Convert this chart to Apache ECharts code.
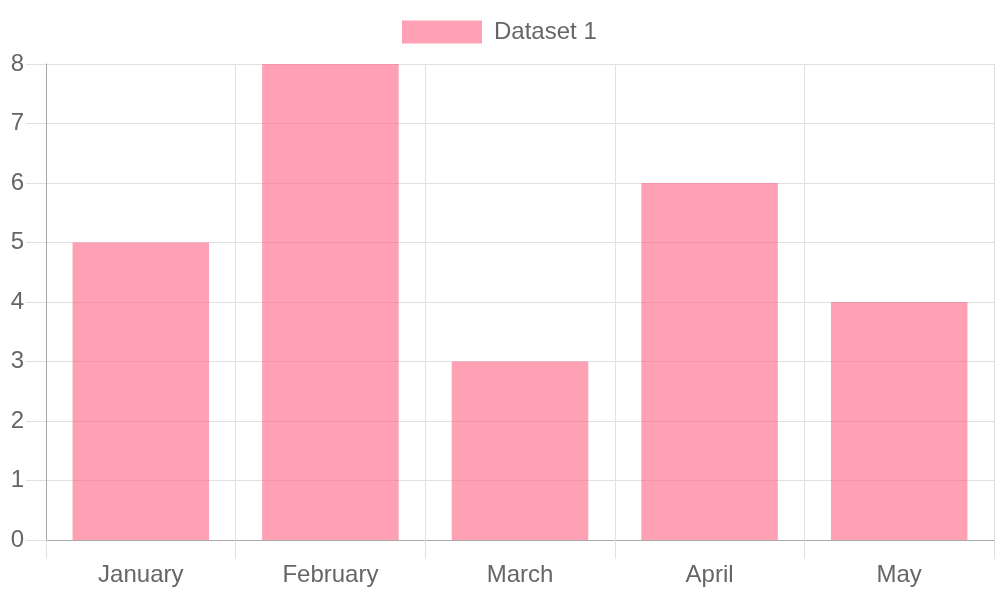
<!DOCTYPE html>
<html>
<head>
<meta charset="utf-8">
<script src="https://cdn.jsdelivr.net/npm/echarts@6/dist/echarts.min.js"></script>
<style>
  html, body { margin: 0; padding: 0; background: #fff; }
  #chart { width: 1000px; height: 600px; }
</style>
</head>
<body>
<div id="chart"></div>
<script>
var months = ["January", "February", "March", "April", "May"];
var dataset1 = [5, 8, 3, 6, 4];
var yTicks = { min: 0, max: 8, step: 1 };

var myChart = echarts.init(document.getElementById("chart"));

var option = {
  backgroundColor: "#fff",
  textStyle: { fontFamily: "Liberation Sans, Arial, sans-serif" },
  legend: {
    top: 20,
    left: 402,
    padding: 0,
    icon: "rect",
    itemWidth: 80,
    itemHeight: 23,
    textStyle: { color: "#666", fontSize: 24, padding: [0, 0, 0, 7] },
    data: ["Dataset 1"],
  },
  grid: {
    left: 46,
    right: 6,
    top: 64,
    bottom: 60,
    containLabel: false,
  },
  xAxis: {
    type: "category",
    data: months,
    boundaryGap: true,
    axisLine: { lineStyle: { color: "#a8a8a8", width: 1 } },
    axisTick: {
      show: true,
      length: 19,
      interval: 0,
      lineStyle: { color: "#e0e0e0" },
    },
    splitLine: {
      show: true,
      interval: 0,
      lineStyle: { color: "#e0e0e0" },
    },
    axisLabel: { color: "#666", fontSize: 24, margin: 23, interval: 0 },
  },
  yAxis: {
    type: "value",
    min: yTicks.min,
    max: yTicks.max,
    interval: yTicks.step,
    axisLine: { show: true, lineStyle: { color: "#a8a8a8", width: 1 } },
    axisTick: { show: true, length: 20, lineStyle: { color: "#e0e0e0" } },
    splitLine: { show: true, lineStyle: { color: "#e0e0e0" } },
    axisLabel: { color: "#666", fontSize: 24, margin: 22 },
  },
  series: [
    {
      name: "Dataset 1",
      type: "bar",
      data: dataset1,
      barWidth: "72%",
      itemStyle: { color: "rgba(255, 99, 132, 0.6)" },
    },
  ],
};

myChart.setOption(option);
</script>
</body>
</html>
